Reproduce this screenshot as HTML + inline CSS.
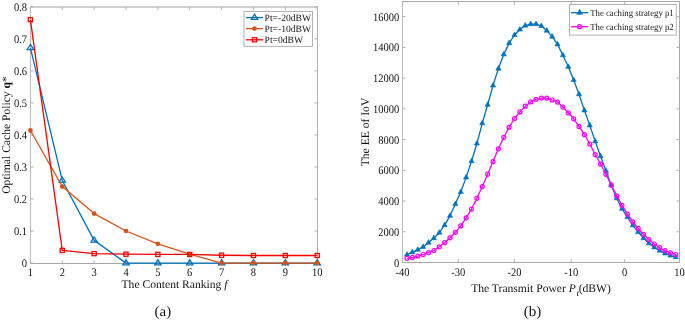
<!DOCTYPE html><html><head><meta charset="utf-8"><style>html,body{margin:0;padding:0;background:#fff;}svg{display:block;}text{font-family:"Liberation Serif", "Times New Roman", serif;fill:#141414;text-rendering:geometricPrecision;}</style></head><body>
<svg width="685" height="320" viewBox="0 0 685 320">
<rect width="685" height="320" fill="#fff"/>
<line x1="30.0" y1="7.0" x2="318.0" y2="7.0" stroke="#a6a6a6" stroke-width="1.2"/>
<line x1="30.0" y1="263.5" x2="318.0" y2="263.5" stroke="#a6a6a6" stroke-width="1"/>
<line x1="30.5" y1="7.0" x2="30.5" y2="263.5" stroke="#bdbdbd" stroke-width="1.1"/>
<line x1="317.5" y1="7.0" x2="317.5" y2="263.5" stroke="#b0b0b0" stroke-width="1"/>
<line x1="30.40" y1="263.5" x2="30.40" y2="260.4" stroke="#b0b0b0" stroke-width="1"/>
<line x1="30.40" y1="7.0" x2="30.40" y2="10.1" stroke="#b0b0b0" stroke-width="1"/>
<text transform="translate(30.40,275.7) scale(1,1.1)" font-size="10.5" text-anchor="middle">1</text>
<line x1="62.27" y1="263.5" x2="62.27" y2="260.4" stroke="#b0b0b0" stroke-width="1"/>
<line x1="62.27" y1="7.0" x2="62.27" y2="10.1" stroke="#b0b0b0" stroke-width="1"/>
<text transform="translate(62.27,275.7) scale(1,1.1)" font-size="10.5" text-anchor="middle">2</text>
<line x1="94.13" y1="263.5" x2="94.13" y2="260.4" stroke="#b0b0b0" stroke-width="1"/>
<line x1="94.13" y1="7.0" x2="94.13" y2="10.1" stroke="#b0b0b0" stroke-width="1"/>
<text transform="translate(94.13,275.7) scale(1,1.1)" font-size="10.5" text-anchor="middle">3</text>
<line x1="126.00" y1="263.5" x2="126.00" y2="260.4" stroke="#b0b0b0" stroke-width="1"/>
<line x1="126.00" y1="7.0" x2="126.00" y2="10.1" stroke="#b0b0b0" stroke-width="1"/>
<text transform="translate(126.00,275.7) scale(1,1.1)" font-size="10.5" text-anchor="middle">4</text>
<line x1="157.87" y1="263.5" x2="157.87" y2="260.4" stroke="#b0b0b0" stroke-width="1"/>
<line x1="157.87" y1="7.0" x2="157.87" y2="10.1" stroke="#b0b0b0" stroke-width="1"/>
<text transform="translate(157.87,275.7) scale(1,1.1)" font-size="10.5" text-anchor="middle">5</text>
<line x1="189.73" y1="263.5" x2="189.73" y2="260.4" stroke="#b0b0b0" stroke-width="1"/>
<line x1="189.73" y1="7.0" x2="189.73" y2="10.1" stroke="#b0b0b0" stroke-width="1"/>
<text transform="translate(189.73,275.7) scale(1,1.1)" font-size="10.5" text-anchor="middle">6</text>
<line x1="221.60" y1="263.5" x2="221.60" y2="260.4" stroke="#b0b0b0" stroke-width="1"/>
<line x1="221.60" y1="7.0" x2="221.60" y2="10.1" stroke="#b0b0b0" stroke-width="1"/>
<text transform="translate(221.60,275.7) scale(1,1.1)" font-size="10.5" text-anchor="middle">7</text>
<line x1="253.47" y1="263.5" x2="253.47" y2="260.4" stroke="#b0b0b0" stroke-width="1"/>
<line x1="253.47" y1="7.0" x2="253.47" y2="10.1" stroke="#b0b0b0" stroke-width="1"/>
<text transform="translate(253.47,275.7) scale(1,1.1)" font-size="10.5" text-anchor="middle">8</text>
<line x1="285.33" y1="263.5" x2="285.33" y2="260.4" stroke="#b0b0b0" stroke-width="1"/>
<line x1="285.33" y1="7.0" x2="285.33" y2="10.1" stroke="#b0b0b0" stroke-width="1"/>
<text transform="translate(285.33,275.7) scale(1,1.1)" font-size="10.5" text-anchor="middle">9</text>
<line x1="317.20" y1="263.5" x2="317.20" y2="260.4" stroke="#b0b0b0" stroke-width="1"/>
<line x1="317.20" y1="7.0" x2="317.20" y2="10.1" stroke="#b0b0b0" stroke-width="1"/>
<text transform="translate(317.20,275.7) scale(1,1.1)" font-size="10.5" text-anchor="middle">10</text>
<line x1="30.5" y1="263.10" x2="33.6" y2="263.10" stroke="#b0b0b0" stroke-width="1"/>
<line x1="317.5" y1="263.10" x2="314.4" y2="263.10" stroke="#b0b0b0" stroke-width="1"/>
<text transform="translate(27,267.10) scale(1,1.1)" font-size="10.5" text-anchor="end">0</text>
<line x1="30.5" y1="231.06" x2="33.6" y2="231.06" stroke="#b0b0b0" stroke-width="1"/>
<line x1="317.5" y1="231.06" x2="314.4" y2="231.06" stroke="#b0b0b0" stroke-width="1"/>
<text transform="translate(27,235.06) scale(1,1.1)" font-size="10.5" text-anchor="end">0.1</text>
<line x1="30.5" y1="199.03" x2="33.6" y2="199.03" stroke="#b0b0b0" stroke-width="1"/>
<line x1="317.5" y1="199.03" x2="314.4" y2="199.03" stroke="#b0b0b0" stroke-width="1"/>
<text transform="translate(27,203.03) scale(1,1.1)" font-size="10.5" text-anchor="end">0.2</text>
<line x1="30.5" y1="166.99" x2="33.6" y2="166.99" stroke="#b0b0b0" stroke-width="1"/>
<line x1="317.5" y1="166.99" x2="314.4" y2="166.99" stroke="#b0b0b0" stroke-width="1"/>
<text transform="translate(27,170.99) scale(1,1.1)" font-size="10.5" text-anchor="end">0.3</text>
<line x1="30.5" y1="134.95" x2="33.6" y2="134.95" stroke="#b0b0b0" stroke-width="1"/>
<line x1="317.5" y1="134.95" x2="314.4" y2="134.95" stroke="#b0b0b0" stroke-width="1"/>
<text transform="translate(27,138.95) scale(1,1.1)" font-size="10.5" text-anchor="end">0.4</text>
<line x1="30.5" y1="102.91" x2="33.6" y2="102.91" stroke="#b0b0b0" stroke-width="1"/>
<line x1="317.5" y1="102.91" x2="314.4" y2="102.91" stroke="#b0b0b0" stroke-width="1"/>
<text transform="translate(27,106.91) scale(1,1.1)" font-size="10.5" text-anchor="end">0.5</text>
<line x1="30.5" y1="70.88" x2="33.6" y2="70.88" stroke="#b0b0b0" stroke-width="1"/>
<line x1="317.5" y1="70.88" x2="314.4" y2="70.88" stroke="#b0b0b0" stroke-width="1"/>
<text transform="translate(27,74.88) scale(1,1.1)" font-size="10.5" text-anchor="end">0.6</text>
<line x1="30.5" y1="38.84" x2="33.6" y2="38.84" stroke="#b0b0b0" stroke-width="1"/>
<line x1="317.5" y1="38.84" x2="314.4" y2="38.84" stroke="#b0b0b0" stroke-width="1"/>
<text transform="translate(27,42.84) scale(1,1.1)" font-size="10.5" text-anchor="end">0.7</text>
<line x1="30.5" y1="6.80" x2="33.6" y2="6.80" stroke="#b0b0b0" stroke-width="1"/>
<line x1="317.5" y1="6.80" x2="314.4" y2="6.80" stroke="#b0b0b0" stroke-width="1"/>
<text transform="translate(27,10.80) scale(1,1.1)" font-size="10.5" text-anchor="end">0.8</text>
<polyline points="30.40,47.81 62.27,180.44 94.13,240.35 126.00,263.10 157.87,263.10 189.73,263.10 221.60,263.10 253.47,263.10 285.33,263.10 317.20,263.10" fill="none" stroke="#0072BD" stroke-width="1.3" stroke-linejoin="round"/>
<polygon points="30.40,44.34 33.60,49.54 27.20,49.54" fill="none" stroke="#0072BD" stroke-width="1.25"/>
<polygon points="62.27,176.98 65.47,182.18 59.07,182.18" fill="none" stroke="#0072BD" stroke-width="1.25"/>
<polygon points="94.13,236.89 97.33,242.09 90.93,242.09" fill="none" stroke="#0072BD" stroke-width="1.25"/>
<polygon points="126.00,259.63 129.20,264.83 122.80,264.83" fill="none" stroke="#0072BD" stroke-width="1.25"/>
<polygon points="157.87,259.63 161.07,264.83 154.67,264.83" fill="none" stroke="#0072BD" stroke-width="1.25"/>
<polygon points="189.73,259.63 192.93,264.83 186.53,264.83" fill="none" stroke="#0072BD" stroke-width="1.25"/>
<polygon points="221.60,259.63 224.80,264.83 218.40,264.83" fill="none" stroke="#0072BD" stroke-width="1.25"/>
<polygon points="253.47,259.63 256.67,264.83 250.27,264.83" fill="none" stroke="#0072BD" stroke-width="1.25"/>
<polygon points="285.33,259.63 288.53,264.83 282.13,264.83" fill="none" stroke="#0072BD" stroke-width="1.25"/>
<polygon points="317.20,259.63 320.40,264.83 314.00,264.83" fill="none" stroke="#0072BD" stroke-width="1.25"/>
<polyline points="30.40,130.46 62.27,186.53 94.13,213.60 126.00,231.00 157.87,243.85 189.73,254.19 221.60,263.10 253.47,263.10 285.33,263.10 317.20,263.10" fill="none" stroke="#D95319" stroke-width="1.3" stroke-linejoin="round"/>
<circle cx="30.40" cy="130.46" r="2.35" fill="#D95319"/>
<circle cx="62.27" cy="186.53" r="2.35" fill="#D95319"/>
<circle cx="94.13" cy="213.60" r="2.35" fill="#D95319"/>
<circle cx="126.00" cy="231.00" r="2.35" fill="#D95319"/>
<circle cx="157.87" cy="243.85" r="2.35" fill="#D95319"/>
<circle cx="189.73" cy="254.19" r="2.35" fill="#D95319"/>
<circle cx="221.60" cy="263.10" r="2.35" fill="#D95319"/>
<circle cx="253.47" cy="263.10" r="2.35" fill="#D95319"/>
<circle cx="285.33" cy="263.10" r="2.35" fill="#D95319"/>
<circle cx="317.20" cy="263.10" r="2.35" fill="#D95319"/>
<polyline points="30.40,19.62 62.27,250.41 94.13,253.62 126.00,254.19 157.87,254.39 189.73,254.45 221.60,255.25 253.47,255.51 285.33,255.51 317.20,255.51" fill="none" stroke="#FF0000" stroke-width="1.3" stroke-linejoin="round"/>
<rect x="28.30" y="17.52" width="4.2" height="4.2" fill="none" stroke="#FF0000" stroke-width="1.25"/>
<rect x="60.17" y="248.31" width="4.2" height="4.2" fill="none" stroke="#FF0000" stroke-width="1.25"/>
<rect x="92.03" y="251.52" width="4.2" height="4.2" fill="none" stroke="#FF0000" stroke-width="1.25"/>
<rect x="123.90" y="252.09" width="4.2" height="4.2" fill="none" stroke="#FF0000" stroke-width="1.25"/>
<rect x="155.77" y="252.29" width="4.2" height="4.2" fill="none" stroke="#FF0000" stroke-width="1.25"/>
<rect x="187.63" y="252.35" width="4.2" height="4.2" fill="none" stroke="#FF0000" stroke-width="1.25"/>
<rect x="219.50" y="253.15" width="4.2" height="4.2" fill="none" stroke="#FF0000" stroke-width="1.25"/>
<rect x="251.37" y="253.41" width="4.2" height="4.2" fill="none" stroke="#FF0000" stroke-width="1.25"/>
<rect x="283.23" y="253.41" width="4.2" height="4.2" fill="none" stroke="#FF0000" stroke-width="1.25"/>
<rect x="315.10" y="253.41" width="4.2" height="4.2" fill="none" stroke="#FF0000" stroke-width="1.25"/>
<rect x="244" y="11.5" width="68.5" height="34.8" fill="#fff" stroke="#a0a0a0" stroke-width="0.8"/>
<line x1="246" y1="17.6" x2="263" y2="17.6" stroke="#0072BD" stroke-width="1.3"/>
<polygon points="254.50,14.13 257.70,19.33 251.30,19.33" fill="none" stroke="#0072BD" stroke-width="1.25"/>
<text x="264.6" y="20.70" font-size="9.6">Pt=-20dBW</text>
<line x1="246" y1="28.6" x2="263" y2="28.6" stroke="#D95319" stroke-width="1.3"/>
<circle cx="254.5" cy="28.6" r="2.35" fill="#D95319"/>
<text x="264.6" y="31.70" font-size="9.6">Pt=-10dBW</text>
<line x1="246" y1="39.8" x2="263" y2="39.8" stroke="#FF0000" stroke-width="1.3"/>
<rect x="252.4" y="37.699999999999996" width="4.2" height="4.2" fill="none" stroke="#FF0000" stroke-width="1.25"/>
<text x="264.6" y="42.90" font-size="9.6">Pt=0dBW</text>
<text x="174.5" y="287.6" font-size="11.6" text-anchor="middle">The Content Ranking <tspan font-style="italic">f</tspan></text>
<text transform="translate(10,135) rotate(-90)" font-size="11.6" text-anchor="middle">Optimal Cache Policy <tspan font-weight="bold">q</tspan>*</text>
<text x="154.6" y="316" font-size="14.5" textLength="16.6" lengthAdjust="spacingAndGlyphs">(a)</text>
<line x1="402.0" y1="1.5" x2="680.0" y2="1.5" stroke="#a8a8a8" stroke-width="1"/>
<line x1="402.0" y1="262.5" x2="680.0" y2="262.5" stroke="#a8a8a8" stroke-width="1.1"/>
<line x1="402.5" y1="1.5" x2="402.5" y2="262.5" stroke="#bdbdbd" stroke-width="1.1"/>
<line x1="679.5" y1="1.5" x2="679.5" y2="262.5" stroke="#a8a8a8" stroke-width="1"/>
<line x1="402.50" y1="262.5" x2="402.50" y2="259.4" stroke="#b0b0b0" stroke-width="1"/>
<line x1="402.50" y1="1.5" x2="402.50" y2="4.6" stroke="#b0b0b0" stroke-width="1"/>
<text transform="translate(402.50,275.7) scale(1,1.1)" font-size="10.5" text-anchor="middle">-40</text>
<line x1="458.20" y1="262.5" x2="458.20" y2="259.4" stroke="#b0b0b0" stroke-width="1"/>
<line x1="458.20" y1="1.5" x2="458.20" y2="4.6" stroke="#b0b0b0" stroke-width="1"/>
<text transform="translate(458.20,275.7) scale(1,1.1)" font-size="10.5" text-anchor="middle">-30</text>
<line x1="514.50" y1="262.5" x2="514.50" y2="259.4" stroke="#b0b0b0" stroke-width="1"/>
<line x1="514.50" y1="1.5" x2="514.50" y2="4.6" stroke="#b0b0b0" stroke-width="1"/>
<text transform="translate(514.50,275.7) scale(1,1.1)" font-size="10.5" text-anchor="middle">-20</text>
<line x1="571.20" y1="262.5" x2="571.20" y2="259.4" stroke="#b0b0b0" stroke-width="1"/>
<line x1="571.20" y1="1.5" x2="571.20" y2="4.6" stroke="#b0b0b0" stroke-width="1"/>
<text transform="translate(571.20,275.7) scale(1,1.1)" font-size="10.5" text-anchor="middle">-10</text>
<line x1="624.60" y1="262.5" x2="624.60" y2="259.4" stroke="#b0b0b0" stroke-width="1"/>
<line x1="624.60" y1="1.5" x2="624.60" y2="4.6" stroke="#b0b0b0" stroke-width="1"/>
<text transform="translate(624.60,275.7) scale(1,1.1)" font-size="10.5" text-anchor="middle">0</text>
<line x1="679.50" y1="262.5" x2="679.50" y2="259.4" stroke="#b0b0b0" stroke-width="1"/>
<line x1="679.50" y1="1.5" x2="679.50" y2="4.6" stroke="#b0b0b0" stroke-width="1"/>
<text transform="translate(679.50,275.7) scale(1,1.1)" font-size="10.5" text-anchor="middle">10</text>
<line x1="402.5" y1="262.50" x2="405.6" y2="262.50" stroke="#b0b0b0" stroke-width="1"/>
<line x1="679.5" y1="262.50" x2="676.4" y2="262.50" stroke="#b0b0b0" stroke-width="1"/>
<text transform="translate(399.2,266.50) scale(1,1.1)" font-size="10.5" text-anchor="end">0</text>
<line x1="402.5" y1="231.76" x2="405.6" y2="231.76" stroke="#b0b0b0" stroke-width="1"/>
<line x1="679.5" y1="231.76" x2="676.4" y2="231.76" stroke="#b0b0b0" stroke-width="1"/>
<text transform="translate(399.2,235.76) scale(1,1.1)" font-size="10.5" text-anchor="end">2000</text>
<line x1="402.5" y1="201.03" x2="405.6" y2="201.03" stroke="#b0b0b0" stroke-width="1"/>
<line x1="679.5" y1="201.03" x2="676.4" y2="201.03" stroke="#b0b0b0" stroke-width="1"/>
<text transform="translate(399.2,205.03) scale(1,1.1)" font-size="10.5" text-anchor="end">4000</text>
<line x1="402.5" y1="170.29" x2="405.6" y2="170.29" stroke="#b0b0b0" stroke-width="1"/>
<line x1="679.5" y1="170.29" x2="676.4" y2="170.29" stroke="#b0b0b0" stroke-width="1"/>
<text transform="translate(399.2,174.29) scale(1,1.1)" font-size="10.5" text-anchor="end">6000</text>
<line x1="402.5" y1="139.55" x2="405.6" y2="139.55" stroke="#b0b0b0" stroke-width="1"/>
<line x1="679.5" y1="139.55" x2="676.4" y2="139.55" stroke="#b0b0b0" stroke-width="1"/>
<text transform="translate(399.2,143.55) scale(1,1.1)" font-size="10.5" text-anchor="end">8000</text>
<line x1="402.5" y1="108.81" x2="405.6" y2="108.81" stroke="#b0b0b0" stroke-width="1"/>
<line x1="679.5" y1="108.81" x2="676.4" y2="108.81" stroke="#b0b0b0" stroke-width="1"/>
<text transform="translate(399.2,112.81) scale(1,1.1)" font-size="10.5" text-anchor="end">10000</text>
<line x1="402.5" y1="78.07" x2="405.6" y2="78.07" stroke="#b0b0b0" stroke-width="1"/>
<line x1="679.5" y1="78.07" x2="676.4" y2="78.07" stroke="#b0b0b0" stroke-width="1"/>
<text transform="translate(399.2,82.07) scale(1,1.1)" font-size="10.5" text-anchor="end">12000</text>
<line x1="402.5" y1="47.34" x2="405.6" y2="47.34" stroke="#b0b0b0" stroke-width="1"/>
<line x1="679.5" y1="47.34" x2="676.4" y2="47.34" stroke="#b0b0b0" stroke-width="1"/>
<text transform="translate(399.2,51.34) scale(1,1.1)" font-size="10.5" text-anchor="end">14000</text>
<line x1="402.5" y1="16.60" x2="405.6" y2="16.60" stroke="#b0b0b0" stroke-width="1"/>
<line x1="679.5" y1="16.60" x2="676.4" y2="16.60" stroke="#b0b0b0" stroke-width="1"/>
<text transform="translate(399.2,20.60) scale(1,1.1)" font-size="10.5" text-anchor="end">16000</text>
<polyline points="407.00,254.70 412.38,252.20 417.75,249.80 423.13,246.90 428.50,242.60 433.88,238.10 439.26,232.70 444.63,225.10 450.01,215.80 455.38,204.05 460.76,192.05 466.14,177.40 471.51,161.20 476.89,143.50 482.26,123.30 487.64,104.80 493.02,85.50 498.39,68.60 503.77,54.40 509.14,43.10 514.52,35.00 519.90,29.55 525.27,25.60 530.65,24.10 536.02,24.10 541.40,26.00 546.78,30.60 552.15,36.60 557.53,44.40 562.90,55.20 568.28,66.80 573.66,80.05 579.03,94.30 584.41,110.40 589.78,125.40 595.16,141.30 600.54,156.30 605.91,170.80 611.29,185.30 616.66,198.30 622.04,208.80 627.42,217.05 632.79,225.30 638.17,232.00 643.54,238.10 648.92,243.30 654.30,247.40 659.67,250.60 665.05,253.40 670.42,255.50 675.80,257.10" fill="none" stroke="#0072BD" stroke-width="1.3" stroke-linejoin="round"/>
<polygon points="407.00,251.63 409.60,256.23 404.40,256.23" fill="#0072BD" stroke="#0072BD" stroke-width="0.6"/>
<polygon points="412.38,249.13 414.98,253.73 409.78,253.73" fill="#0072BD" stroke="#0072BD" stroke-width="0.6"/>
<polygon points="417.75,246.73 420.35,251.33 415.15,251.33" fill="#0072BD" stroke="#0072BD" stroke-width="0.6"/>
<polygon points="423.13,243.83 425.73,248.43 420.53,248.43" fill="#0072BD" stroke="#0072BD" stroke-width="0.6"/>
<polygon points="428.50,239.53 431.10,244.13 425.90,244.13" fill="#0072BD" stroke="#0072BD" stroke-width="0.6"/>
<polygon points="433.88,235.03 436.48,239.63 431.28,239.63" fill="#0072BD" stroke="#0072BD" stroke-width="0.6"/>
<polygon points="439.26,229.63 441.86,234.23 436.66,234.23" fill="#0072BD" stroke="#0072BD" stroke-width="0.6"/>
<polygon points="444.63,222.03 447.23,226.63 442.03,226.63" fill="#0072BD" stroke="#0072BD" stroke-width="0.6"/>
<polygon points="450.01,212.73 452.61,217.33 447.41,217.33" fill="#0072BD" stroke="#0072BD" stroke-width="0.6"/>
<polygon points="455.38,200.98 457.98,205.58 452.78,205.58" fill="#0072BD" stroke="#0072BD" stroke-width="0.6"/>
<polygon points="460.76,188.98 463.36,193.58 458.16,193.58" fill="#0072BD" stroke="#0072BD" stroke-width="0.6"/>
<polygon points="466.14,174.33 468.74,178.93 463.54,178.93" fill="#0072BD" stroke="#0072BD" stroke-width="0.6"/>
<polygon points="471.51,158.13 474.11,162.73 468.91,162.73" fill="#0072BD" stroke="#0072BD" stroke-width="0.6"/>
<polygon points="476.89,140.43 479.49,145.03 474.29,145.03" fill="#0072BD" stroke="#0072BD" stroke-width="0.6"/>
<polygon points="482.26,120.23 484.86,124.83 479.66,124.83" fill="#0072BD" stroke="#0072BD" stroke-width="0.6"/>
<polygon points="487.64,101.73 490.24,106.33 485.04,106.33" fill="#0072BD" stroke="#0072BD" stroke-width="0.6"/>
<polygon points="493.02,82.43 495.62,87.03 490.42,87.03" fill="#0072BD" stroke="#0072BD" stroke-width="0.6"/>
<polygon points="498.39,65.53 500.99,70.13 495.79,70.13" fill="#0072BD" stroke="#0072BD" stroke-width="0.6"/>
<polygon points="503.77,51.33 506.37,55.93 501.17,55.93" fill="#0072BD" stroke="#0072BD" stroke-width="0.6"/>
<polygon points="509.14,40.03 511.74,44.63 506.54,44.63" fill="#0072BD" stroke="#0072BD" stroke-width="0.6"/>
<polygon points="514.52,31.93 517.12,36.53 511.92,36.53" fill="#0072BD" stroke="#0072BD" stroke-width="0.6"/>
<polygon points="519.90,26.48 522.50,31.08 517.30,31.08" fill="#0072BD" stroke="#0072BD" stroke-width="0.6"/>
<polygon points="525.27,22.53 527.87,27.13 522.67,27.13" fill="#0072BD" stroke="#0072BD" stroke-width="0.6"/>
<polygon points="530.65,21.03 533.25,25.63 528.05,25.63" fill="#0072BD" stroke="#0072BD" stroke-width="0.6"/>
<polygon points="536.02,21.03 538.62,25.63 533.42,25.63" fill="#0072BD" stroke="#0072BD" stroke-width="0.6"/>
<polygon points="541.40,22.93 544.00,27.53 538.80,27.53" fill="#0072BD" stroke="#0072BD" stroke-width="0.6"/>
<polygon points="546.78,27.53 549.38,32.13 544.18,32.13" fill="#0072BD" stroke="#0072BD" stroke-width="0.6"/>
<polygon points="552.15,33.53 554.75,38.13 549.55,38.13" fill="#0072BD" stroke="#0072BD" stroke-width="0.6"/>
<polygon points="557.53,41.33 560.13,45.93 554.93,45.93" fill="#0072BD" stroke="#0072BD" stroke-width="0.6"/>
<polygon points="562.90,52.13 565.50,56.73 560.30,56.73" fill="#0072BD" stroke="#0072BD" stroke-width="0.6"/>
<polygon points="568.28,63.73 570.88,68.33 565.68,68.33" fill="#0072BD" stroke="#0072BD" stroke-width="0.6"/>
<polygon points="573.66,76.98 576.26,81.58 571.06,81.58" fill="#0072BD" stroke="#0072BD" stroke-width="0.6"/>
<polygon points="579.03,91.23 581.63,95.83 576.43,95.83" fill="#0072BD" stroke="#0072BD" stroke-width="0.6"/>
<polygon points="584.41,107.33 587.01,111.93 581.81,111.93" fill="#0072BD" stroke="#0072BD" stroke-width="0.6"/>
<polygon points="589.78,122.33 592.38,126.93 587.18,126.93" fill="#0072BD" stroke="#0072BD" stroke-width="0.6"/>
<polygon points="595.16,138.23 597.76,142.83 592.56,142.83" fill="#0072BD" stroke="#0072BD" stroke-width="0.6"/>
<polygon points="600.54,153.23 603.14,157.83 597.94,157.83" fill="#0072BD" stroke="#0072BD" stroke-width="0.6"/>
<polygon points="605.91,167.73 608.51,172.33 603.31,172.33" fill="#0072BD" stroke="#0072BD" stroke-width="0.6"/>
<polygon points="611.29,182.23 613.89,186.83 608.69,186.83" fill="#0072BD" stroke="#0072BD" stroke-width="0.6"/>
<polygon points="616.66,195.23 619.26,199.83 614.06,199.83" fill="#0072BD" stroke="#0072BD" stroke-width="0.6"/>
<polygon points="622.04,205.73 624.64,210.33 619.44,210.33" fill="#0072BD" stroke="#0072BD" stroke-width="0.6"/>
<polygon points="627.42,213.98 630.02,218.58 624.82,218.58" fill="#0072BD" stroke="#0072BD" stroke-width="0.6"/>
<polygon points="632.79,222.23 635.39,226.83 630.19,226.83" fill="#0072BD" stroke="#0072BD" stroke-width="0.6"/>
<polygon points="638.17,228.93 640.77,233.53 635.57,233.53" fill="#0072BD" stroke="#0072BD" stroke-width="0.6"/>
<polygon points="643.54,235.03 646.14,239.63 640.94,239.63" fill="#0072BD" stroke="#0072BD" stroke-width="0.6"/>
<polygon points="648.92,240.23 651.52,244.83 646.32,244.83" fill="#0072BD" stroke="#0072BD" stroke-width="0.6"/>
<polygon points="654.30,244.33 656.90,248.93 651.70,248.93" fill="#0072BD" stroke="#0072BD" stroke-width="0.6"/>
<polygon points="659.67,247.53 662.27,252.13 657.07,252.13" fill="#0072BD" stroke="#0072BD" stroke-width="0.6"/>
<polygon points="665.05,250.33 667.65,254.93 662.45,254.93" fill="#0072BD" stroke="#0072BD" stroke-width="0.6"/>
<polygon points="670.42,252.43 673.02,257.03 667.82,257.03" fill="#0072BD" stroke="#0072BD" stroke-width="0.6"/>
<polygon points="675.80,254.03 678.40,258.63 673.20,258.63" fill="#0072BD" stroke="#0072BD" stroke-width="0.6"/>
<polyline points="407.00,258.30 412.38,257.40 417.75,256.10 423.13,254.50 428.50,252.70 433.88,250.50 439.26,246.80 444.63,242.70 450.01,237.80 455.38,232.30 460.76,225.80 466.14,217.80 471.51,209.05 476.89,198.30 482.26,186.55 487.64,174.20 493.02,161.60 498.39,148.80 503.77,137.30 509.14,127.30 514.52,118.50 519.90,111.90 525.27,106.20 530.65,101.90 536.02,99.30 541.40,98.10 546.78,98.10 552.15,100.00 557.53,102.10 562.90,107.05 568.28,112.80 573.66,118.80 579.03,126.40 584.41,134.55 589.78,144.05 595.16,154.55 600.54,164.05 605.91,174.30 611.29,185.10 616.66,195.80 622.04,205.30 627.42,214.05 632.79,221.80 638.17,228.40 643.54,234.30 648.92,239.60 654.30,244.00 659.67,247.70 665.05,250.60 670.42,252.90 675.80,254.50" fill="none" stroke="#FF00FF" stroke-width="1.3" stroke-linejoin="round"/>
<circle cx="407.00" cy="258.30" r="2.0" fill="none" stroke="#FF00FF" stroke-width="1.2"/>
<circle cx="412.38" cy="257.40" r="2.0" fill="none" stroke="#FF00FF" stroke-width="1.2"/>
<circle cx="417.75" cy="256.10" r="2.0" fill="none" stroke="#FF00FF" stroke-width="1.2"/>
<circle cx="423.13" cy="254.50" r="2.0" fill="none" stroke="#FF00FF" stroke-width="1.2"/>
<circle cx="428.50" cy="252.70" r="2.0" fill="none" stroke="#FF00FF" stroke-width="1.2"/>
<circle cx="433.88" cy="250.50" r="2.0" fill="none" stroke="#FF00FF" stroke-width="1.2"/>
<circle cx="439.26" cy="246.80" r="2.0" fill="none" stroke="#FF00FF" stroke-width="1.2"/>
<circle cx="444.63" cy="242.70" r="2.0" fill="none" stroke="#FF00FF" stroke-width="1.2"/>
<circle cx="450.01" cy="237.80" r="2.0" fill="none" stroke="#FF00FF" stroke-width="1.2"/>
<circle cx="455.38" cy="232.30" r="2.0" fill="none" stroke="#FF00FF" stroke-width="1.2"/>
<circle cx="460.76" cy="225.80" r="2.0" fill="none" stroke="#FF00FF" stroke-width="1.2"/>
<circle cx="466.14" cy="217.80" r="2.0" fill="none" stroke="#FF00FF" stroke-width="1.2"/>
<circle cx="471.51" cy="209.05" r="2.0" fill="none" stroke="#FF00FF" stroke-width="1.2"/>
<circle cx="476.89" cy="198.30" r="2.0" fill="none" stroke="#FF00FF" stroke-width="1.2"/>
<circle cx="482.26" cy="186.55" r="2.0" fill="none" stroke="#FF00FF" stroke-width="1.2"/>
<circle cx="487.64" cy="174.20" r="2.0" fill="none" stroke="#FF00FF" stroke-width="1.2"/>
<circle cx="493.02" cy="161.60" r="2.0" fill="none" stroke="#FF00FF" stroke-width="1.2"/>
<circle cx="498.39" cy="148.80" r="2.0" fill="none" stroke="#FF00FF" stroke-width="1.2"/>
<circle cx="503.77" cy="137.30" r="2.0" fill="none" stroke="#FF00FF" stroke-width="1.2"/>
<circle cx="509.14" cy="127.30" r="2.0" fill="none" stroke="#FF00FF" stroke-width="1.2"/>
<circle cx="514.52" cy="118.50" r="2.0" fill="none" stroke="#FF00FF" stroke-width="1.2"/>
<circle cx="519.90" cy="111.90" r="2.0" fill="none" stroke="#FF00FF" stroke-width="1.2"/>
<circle cx="525.27" cy="106.20" r="2.0" fill="none" stroke="#FF00FF" stroke-width="1.2"/>
<circle cx="530.65" cy="101.90" r="2.0" fill="none" stroke="#FF00FF" stroke-width="1.2"/>
<circle cx="536.02" cy="99.30" r="2.0" fill="none" stroke="#FF00FF" stroke-width="1.2"/>
<circle cx="541.40" cy="98.10" r="2.0" fill="none" stroke="#FF00FF" stroke-width="1.2"/>
<circle cx="546.78" cy="98.10" r="2.0" fill="none" stroke="#FF00FF" stroke-width="1.2"/>
<circle cx="552.15" cy="100.00" r="2.0" fill="none" stroke="#FF00FF" stroke-width="1.2"/>
<circle cx="557.53" cy="102.10" r="2.0" fill="none" stroke="#FF00FF" stroke-width="1.2"/>
<circle cx="562.90" cy="107.05" r="2.0" fill="none" stroke="#FF00FF" stroke-width="1.2"/>
<circle cx="568.28" cy="112.80" r="2.0" fill="none" stroke="#FF00FF" stroke-width="1.2"/>
<circle cx="573.66" cy="118.80" r="2.0" fill="none" stroke="#FF00FF" stroke-width="1.2"/>
<circle cx="579.03" cy="126.40" r="2.0" fill="none" stroke="#FF00FF" stroke-width="1.2"/>
<circle cx="584.41" cy="134.55" r="2.0" fill="none" stroke="#FF00FF" stroke-width="1.2"/>
<circle cx="589.78" cy="144.05" r="2.0" fill="none" stroke="#FF00FF" stroke-width="1.2"/>
<circle cx="595.16" cy="154.55" r="2.0" fill="none" stroke="#FF00FF" stroke-width="1.2"/>
<circle cx="600.54" cy="164.05" r="2.0" fill="none" stroke="#FF00FF" stroke-width="1.2"/>
<circle cx="605.91" cy="174.30" r="2.0" fill="none" stroke="#FF00FF" stroke-width="1.2"/>
<circle cx="611.29" cy="185.10" r="2.0" fill="none" stroke="#FF00FF" stroke-width="1.2"/>
<circle cx="616.66" cy="195.80" r="2.0" fill="none" stroke="#FF00FF" stroke-width="1.2"/>
<circle cx="622.04" cy="205.30" r="2.0" fill="none" stroke="#FF00FF" stroke-width="1.2"/>
<circle cx="627.42" cy="214.05" r="2.0" fill="none" stroke="#FF00FF" stroke-width="1.2"/>
<circle cx="632.79" cy="221.80" r="2.0" fill="none" stroke="#FF00FF" stroke-width="1.2"/>
<circle cx="638.17" cy="228.40" r="2.0" fill="none" stroke="#FF00FF" stroke-width="1.2"/>
<circle cx="643.54" cy="234.30" r="2.0" fill="none" stroke="#FF00FF" stroke-width="1.2"/>
<circle cx="648.92" cy="239.60" r="2.0" fill="none" stroke="#FF00FF" stroke-width="1.2"/>
<circle cx="654.30" cy="244.00" r="2.0" fill="none" stroke="#FF00FF" stroke-width="1.2"/>
<circle cx="659.67" cy="247.70" r="2.0" fill="none" stroke="#FF00FF" stroke-width="1.2"/>
<circle cx="665.05" cy="250.60" r="2.0" fill="none" stroke="#FF00FF" stroke-width="1.2"/>
<circle cx="670.42" cy="252.90" r="2.0" fill="none" stroke="#FF00FF" stroke-width="1.2"/>
<circle cx="675.80" cy="254.50" r="2.0" fill="none" stroke="#FF00FF" stroke-width="1.2"/>
<rect x="569.5" y="4.6" width="106.7" height="30.5" fill="#fff" stroke="#a0a0a0" stroke-width="0.8"/>
<line x1="571" y1="12.7" x2="588.2" y2="12.7" stroke="#0072BD" stroke-width="1.3"/>
<polygon points="579.60,9.37 582.60,14.37 576.60,14.37" fill="#0072BD" stroke="#0072BD" stroke-width="0.6"/>
<text x="590.3" y="16.20" font-size="9.3" textLength="83.4" lengthAdjust="spacingAndGlyphs">The caching strategy p1</text>
<line x1="571" y1="26.7" x2="588.2" y2="26.7" stroke="#FF00FF" stroke-width="1.3"/>
<circle cx="579.6" cy="26.7" r="2.0" fill="none" stroke="#FF00FF" stroke-width="1.2"/>
<text x="590.3" y="30.20" font-size="9.3" textLength="83.4" lengthAdjust="spacingAndGlyphs">The caching strategy p2</text>
<text x="541" y="292.3" font-size="11.6" text-anchor="middle">The Transmit Power <tspan font-style="italic">P</tspan><tspan font-style="italic" font-size="9" dx="0.6" dy="3.6">t</tspan><tspan dx="-0.3" dy="-3.6">(dBW)</tspan></text>
<text transform="translate(369,132) rotate(-90)" font-size="11.6" text-anchor="middle">The EE of IoV</text>
<text x="523.8" y="316" font-size="14.5" textLength="17.6" lengthAdjust="spacingAndGlyphs">(b)</text>
</svg></body></html>
